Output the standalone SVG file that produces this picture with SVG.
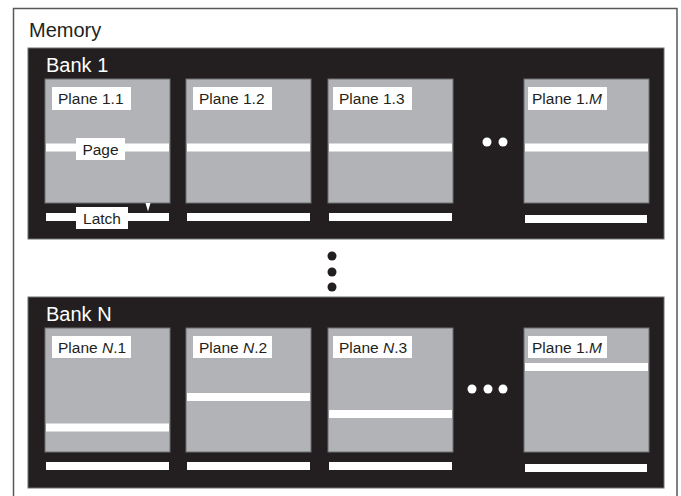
<svg xmlns="http://www.w3.org/2000/svg" width="681" height="496" viewBox="0 0 681 496">
<style>
text{font-family:"Liberation Sans",Arial,sans-serif;fill:#231f20}
.big{font-size:20px}
.bank{fill:#231f20;stroke:#6d6e71;stroke-width:1}
.bank-title{font-size:20px;fill:#ffffff}
.tile{fill:#b1b3b6;stroke:#6d6e71;stroke-width:1}
.strip{fill:#ffffff}
.lbl{fill:#ffffff}
.pl{font-size:15.5px}
.dot{fill:#ffffff}
.vdot{fill:#231f20}
</style>
<defs>
<rect id="tileShape" class="tile" x="0" y="0" width="125" height="124"/>
</defs>
<rect width="681" height="496" fill="#ffffff"/>
<g id="memory">
<rect x="13.5" y="8.5" width="663.5" height="500" fill="#ffffff" stroke="#58595b" stroke-width="1.5"/>
<text class="big" x="29" y="37">Memory</text>
</g>
<g id="bank1">
<rect class="bank" x="28" y="48" width="636" height="191"/>
<text class="bank-title" x="46" y="72">Bank 1</text>
<circle class="dot" cx="487" cy="142" r="4.5"/>
<circle class="dot" cx="503" cy="142" r="4.5"/>
</g>
<g id="plane-1-1">
<use href="#tileShape" x="45" y="79"/>
<rect class="lbl" x="52" y="87" width="79" height="23"/>
<text class="pl" x="58" y="104">Plane 1.1</text>
<rect class="strip" x="46" y="143.5" width="123" height="8"/>
<rect class="lbl" x="76" y="138" width="49" height="22"/>
<text class="pl" x="100.5" y="155" text-anchor="middle">Page</text>
<rect class="strip" x="46" y="213" width="123" height="8"/>
<rect class="lbl" x="76" y="207" width="52" height="22"/>
<text class="pl" x="102" y="224" text-anchor="middle">Latch</text>
</g>
<g id="plane-1-2">
<use href="#tileShape" x="186" y="79"/>
<rect class="lbl" x="193" y="87" width="79" height="23"/>
<text class="pl" x="199" y="104">Plane 1.2</text>
<rect class="strip" x="187" y="143.5" width="123" height="8"/>
<rect class="strip" x="187" y="213" width="123" height="8"/>
</g>
<g id="plane-1-3">
<use href="#tileShape" x="328" y="79"/>
<rect class="lbl" x="333" y="87" width="79" height="23"/>
<text class="pl" x="339" y="104">Plane 1.3</text>
<rect class="strip" x="329" y="143.5" width="123" height="8"/>
<rect class="strip" x="329" y="213" width="123" height="8"/>
</g>
<g id="plane-1-M">
<use href="#tileShape" x="524" y="79"/>
<rect class="lbl" x="528" y="87" width="79" height="23"/>
<text class="pl" x="532" y="104">Plane 1.<tspan font-style="italic">M</tspan></text>
<rect class="strip" x="525" y="143.5" width="123" height="8"/>
<rect class="strip" x="525" y="215" width="122" height="8"/>
</g>
<g id="bank-dots">
<circle class="vdot" cx="332" cy="256" r="4.5"/>
<circle class="vdot" cx="332" cy="272" r="4.5"/>
<circle class="vdot" cx="332" cy="287" r="4.5"/>
</g>
<g id="bankN">
<rect class="bank" x="28" y="297" width="636" height="191"/>
<text class="bank-title" x="46" y="321">Bank N</text>
<circle class="dot" cx="472" cy="389" r="4.5"/>
<circle class="dot" cx="488" cy="389" r="4.5"/>
<circle class="dot" cx="503" cy="389" r="4.5"/>
</g>
<g id="plane-N-1">
<use href="#tileShape" x="45" y="328"/>
<rect class="lbl" x="52" y="336" width="79" height="22"/>
<text class="pl" x="58" y="353">Plane <tspan font-style="italic">N</tspan>.1</text>
<rect class="strip" x="46" y="423.5" width="123" height="8"/>
<rect class="strip" x="46" y="462" width="123" height="8"/>
</g>
<g id="plane-N-2">
<use href="#tileShape" x="186" y="328"/>
<rect class="lbl" x="193" y="336" width="79" height="22"/>
<text class="pl" x="199" y="353">Plane <tspan font-style="italic">N</tspan>.2</text>
<rect class="strip" x="187" y="393" width="123" height="8"/>
<rect class="strip" x="187" y="462" width="123" height="8"/>
</g>
<g id="plane-N-3">
<use href="#tileShape" x="328" y="328"/>
<rect class="lbl" x="333" y="336" width="79" height="22"/>
<text class="pl" x="339" y="353">Plane <tspan font-style="italic">N</tspan>.3</text>
<rect class="strip" x="329" y="410" width="123" height="8"/>
<rect class="strip" x="329" y="462" width="123" height="8"/>
</g>
<g id="plane-N-M">
<use href="#tileShape" x="524" y="328"/>
<rect class="lbl" x="528" y="336" width="79" height="22"/>
<text class="pl" x="532" y="353">Plane 1.<tspan font-style="italic">M</tspan></text>
<rect class="strip" x="525" y="363" width="123" height="8"/>
<rect class="strip" x="525" y="464" width="122" height="8"/>
</g>
<g id="connectors">
<polygon points="145.5,203 150.5,203 148,211.5" fill="#ffffff"/>
</g>
</svg>
